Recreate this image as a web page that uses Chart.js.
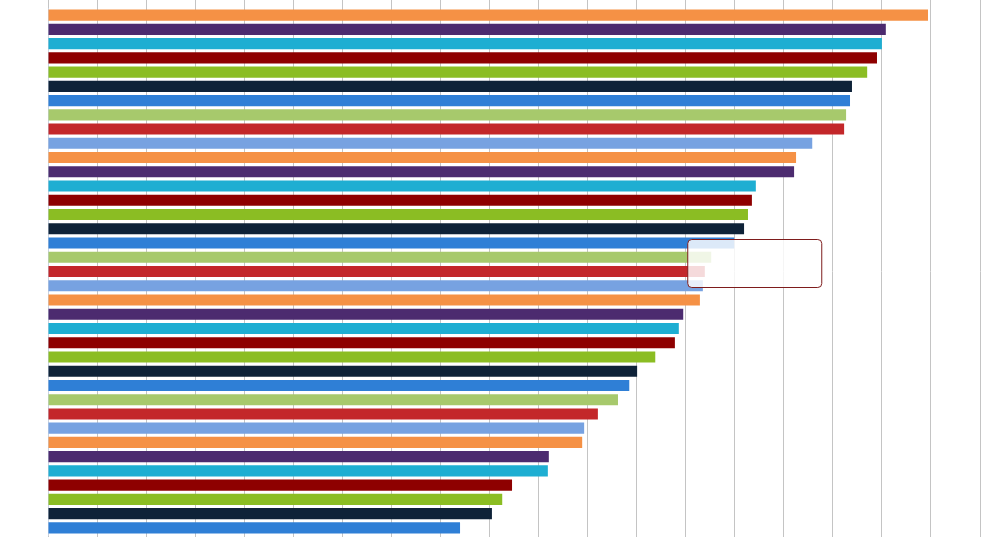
<!DOCTYPE html>
<html lang="en">
<head>
    <meta charset="UTF-8">
    <title>Bar Ranking</title>
    <script src="https://cdn.jsdelivr.net/npm/chart.js"></script>
    <style>
        body {
            margin: 0;
            background: #ffffff;
        }
        .chart-container {
            width: 995px;
            height: 537px;
        }
    </style>
</head>
<body>
    <div class="chart-container">
        <canvas id="rankChart"></canvas>
    </div>

    <script>
        // categories (labels are hidden in the picture)
        const categories = [
            'Item 1', 'Item 2', 'Item 3', 'Item 4', 'Item 5', 'Item 6', 'Item 7', 'Item 8',
            'Item 9', 'Item 10', 'Item 11', 'Item 12', 'Item 13', 'Item 14', 'Item 15', 'Item 16',
            'Item 17', 'Item 18', 'Item 19', 'Item 20', 'Item 21', 'Item 22', 'Item 23', 'Item 24',
            'Item 25', 'Item 26', 'Item 27', 'Item 28', 'Item 29', 'Item 30', 'Item 31', 'Item 32',
            'Item 33', 'Item 34', 'Item 35', 'Item 36', 'Item 37'
        ];

        const values = [
            179.4, 170.8, 170.0, 169.0, 167.0, 163.9, 163.5, 162.7, 162.3, 155.8,
            152.5, 152.1, 144.3, 143.5, 142.7, 141.9, 139.9, 135.2, 133.9, 133.5,
            132.9, 129.5, 128.6, 127.8, 123.8, 120.1, 118.5, 116.2, 112.1, 109.3,
            108.9, 102.1, 101.9, 94.6, 92.6, 90.5, 84.0
        ];

        // colour cycle used by the bars
        const palette = [
            '#f59145', '#4c2b6f', '#1eaed2', '#8e0000', '#8bbd23',
            '#0e2238', '#2f7fd6', '#a7c96c', '#c3272a', '#77a2e1'
        ];

        const axisMax = 190;
        const axisStep = 10;

        const barColors = values.map((v, i) => palette[i % palette.length]);

        // fixed spot for the empty tooltip box
        Chart.Tooltip.positioners.fixedBox = function () {
            return { x: 754.75, y: 263.5 };
        };

        const ctx = document.getElementById('rankChart').getContext('2d');
        const rankChart = new Chart(ctx, {
            type: 'bar',
            data: {
                labels: categories,
                datasets: [{
                    data: values,
                    backgroundColor: barColors,
                    borderWidth: 0,
                    categoryPercentage: 1.0,
                    barPercentage: 0.78
                }]
            },
            options: {
                indexAxis: 'y',
                responsive: true,
                maintainAspectRatio: false,
                animation: false,
                events: [],
                layout: {
                    padding: { left: 48, right: 15, top: 0, bottom: 0 }
                },
                plugins: {
                    legend: { display: false },
                    tooltip: {
                        enabled: true,
                        position: 'fixedBox',
                        xAlign: 'center',
                        yAlign: 'center',
                        caretSize: 0,
                        displayColors: false,
                        backgroundColor: 'rgba(255, 255, 255, 0.83)',
                        borderColor: '#7e1c1c',
                        borderWidth: 1,
                        cornerRadius: 4,
                        padding: { top: 24, bottom: 24, left: 67, right: 67 },
                        callbacks: {
                            title: () => '',
                            label: () => ''
                        }
                    }
                },
                scales: {
                    x: {
                        type: 'linear',
                        position: 'top',
                        min: 0,
                        max: axisMax,
                        ticks: { display: false, stepSize: axisStep, maxTicksLimit: 30 },
                        grid: { color: '#c4c4c4', lineWidth: 1, tickLength: 8 },
                        border: { display: false }
                    },
                    x2: {
                        type: 'linear',
                        position: 'bottom',
                        min: 0,
                        max: axisMax,
                        ticks: { display: false, stepSize: axisStep, maxTicksLimit: 30 },
                        grid: { color: '#c4c4c4', lineWidth: 1, tickLength: 2, drawOnChartArea: false },
                        border: { display: false }
                    },
                    y: {
                        ticks: { display: false },
                        grid: { display: false, drawTicks: false },
                        border: { display: true, color: '#c8d2e0', width: 1 }
                    }
                }
            }
        });

        rankChart.tooltip.setActiveElements([{ datasetIndex: 0, index: 17 }], { x: 0, y: 0 });
        rankChart.update();
    </script>
</body>
</html>
